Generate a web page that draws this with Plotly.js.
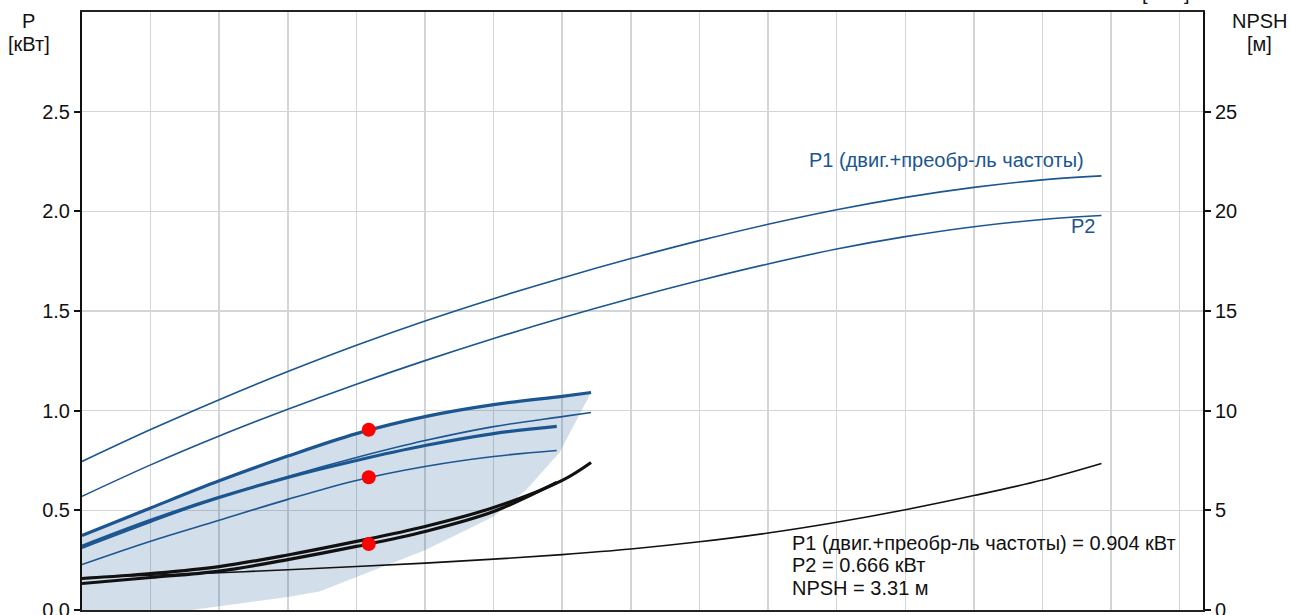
<!DOCTYPE html>
<html>
<head>
<meta charset="utf-8">
<script src="https://cdn.plot.ly/plotly-3.0.1.min.js"></script>
<style>html,body{margin:0;padding:0;background:#fff;}#chart{width:1290px;height:615px;}</style>
</head>
<body>
<div id="chart"></div>
<script>
// Flow positions (grid units of the hidden Q axis) and values
const qFull   = [0, 0.5, 1, 1.5, 2, 2.5, 3, 3.5, 4, 4.5, 5, 5.5, 6, 6.5, 7, 7.43];
const p1Full  = [0.745, 0.905, 1.055, 1.196, 1.328, 1.450, 1.562, 1.666, 1.763, 1.853, 1.935, 2.008, 2.070, 2.120, 2.158, 2.178];
const p2Full  = [0.570, 0.728, 0.873, 1.007, 1.133, 1.251, 1.362, 1.466, 1.563, 1.653, 1.736, 1.811, 1.873, 1.923, 1.959, 1.979];
const npshFull= [1.62, 1.74, 1.87, 2.02, 2.18, 2.35, 2.55, 2.78, 3.06, 3.42, 3.86, 4.40, 5.03, 5.74, 6.52, 7.35];

const qA    = [0, 0.5, 1, 1.5, 2, 2.5, 3, 3.5, 3.71];
const p1A   = [0.374, 0.512, 0.648, 0.772, 0.885, 0.970, 1.030, 1.072, 1.091];
const p2A   = [0.31, 0.44, 0.565, 0.67, 0.765, 0.85, 0.92, 0.97, 0.991];
const npshA = [1.58, 1.83, 2.18, 2.76, 3.44, 4.19, 5.14, 6.50, 7.40];

const qB    = [0, 0.5, 1, 1.5, 2, 2.5, 3, 3.46];
const p1B   = [0.32, 0.45, 0.565, 0.665, 0.75, 0.825, 0.885, 0.921];
const p2B   = [0.228, 0.345, 0.45, 0.555, 0.65, 0.72, 0.77, 0.80];
const npshB = [1.33, 1.63, 1.95, 2.53, 3.19, 3.94, 4.94, 6.40];

// lower edge of the shaded operating range
const rangeLowQ = [3.71, 3.48, 3.24, 3.0, 2.5, 2.0, 1.73, 1.5, 1.0, 0.8, 0];
const rangeLowP = [1.091, 0.79, 0.605, 0.469, 0.30, 0.165, 0.093, 0.065, 0.018, 0, 0];

// duty point
const dutyQ = [2.09];
const dutyP1 = [0.904];
const dutyP2 = [0.666];
const dutyNPSH = [3.31];

const pTicks = [0, 0.5, 1.0, 1.5, 2.0, 2.5];
const pTickText = ['0.0', '0.5', '1.0', '1.5', '2.0', '2.5'];
const nTicks = [0, 5, 10, 15, 20, 25];
const nTickText = ['0', '5', '10', '15', '20', '25'];

const BLUE = '#1b5690';
const BLACK = '#111111';

const traces = [
  {x: qA.concat(rangeLowQ), y: p1A.concat(rangeLowP), mode: 'lines', fill: 'toself',
   fillcolor: 'rgba(30,90,150,0.2)', line: {width: 0}, hoverinfo: 'skip'},
  {x: qFull, y: p1Full, mode: 'lines', line: {color: BLUE, width: 1.6, shape: 'spline'}},
  {x: qFull, y: p2Full, mode: 'lines', line: {color: BLUE, width: 1.6, shape: 'spline'}},
  {x: qA, y: p1A, mode: 'lines', line: {color: BLUE, width: 3.2, shape: 'spline'}},
  {x: qA, y: p2A, mode: 'lines', line: {color: BLUE, width: 1.6, shape: 'spline'}},
  {x: qB, y: p1B, mode: 'lines', line: {color: BLUE, width: 3.2, shape: 'spline'}},
  {x: qB, y: p2B, mode: 'lines', line: {color: BLUE, width: 1.6, shape: 'spline'}},
  {x: qFull, y: npshFull, yaxis: 'y2', mode: 'lines', line: {color: BLACK, width: 1.6, shape: 'spline'}},
  {x: qA, y: npshA, yaxis: 'y2', mode: 'lines', line: {color: BLACK, width: 3.2, shape: 'spline'}},
  {x: qB, y: npshB, yaxis: 'y2', mode: 'lines', line: {color: BLACK, width: 3.2, shape: 'spline'}},
  {x: dutyQ, y: dutyP1, mode: 'markers', marker: {color: '#ff0000', size: 14}},
  {x: dutyQ, y: dutyP2, mode: 'markers', marker: {color: '#ff0000', size: 14}},
  {x: dutyQ, y: dutyNPSH, yaxis: 'y2', mode: 'markers', marker: {color: '#ff0000', size: 14}}
];

const FONT = 'Liberation Sans, Arial, sans-serif';
const FS = 20;
const py = p => (610 - p) / 598;      // pixel row -> paper y
const px = p => (p - 82) / 1121;      // pixel column -> paper x

const layout = {
  width: 1290, height: 615,
  margin: {l: 82, r: 87, t: 12, b: 5, pad: 0},
  paper_bgcolor: '#ffffff', plot_bgcolor: '#ffffff',
  showlegend: false,
  font: {family: FONT, size: FS, color: '#111'},
  xaxis: {range: [0, 8.17], tick0: 0, dtick: 0.5, showticklabels: false, ticks: '',
          showgrid: true, gridcolor: '#d3d5d8', gridwidth: 1.5, zeroline: false,
          showline: true, linecolor: '#222', linewidth: 2, mirror: true, fixedrange: true},
  yaxis: {range: [0, 3], tickmode: 'array', tickvals: pTicks, ticktext: pTickText,
          ticks: 'outside', ticklen: 6, tickwidth: 2, tickcolor: '#111', ticklabeloverflow: 'allow',
          showgrid: true, gridcolor: '#d3d5d8', gridwidth: 1.5, zeroline: false,
          showline: true, linecolor: '#111', linewidth: 2, mirror: true},
  yaxis2: {range: [0, 30], overlaying: 'y', side: 'right', tickmode: 'array', tickvals: nTicks, ticktext: nTickText,
           ticks: 'outside', ticklen: 6, tickwidth: 2, tickcolor: '#111', ticklabeloverflow: 'allow',
           showgrid: false, zeroline: false, showline: true, linecolor: '#111', linewidth: 2},
  annotations: [
    {xref: 'paper', yref: 'paper', x: px(28.5), y: py(21), xanchor: 'center', yanchor: 'middle',
     text: 'P', showarrow: false, font: {size: FS, color: '#111'}},
    {xref: 'paper', yref: 'paper', x: px(28.5), y: py(44), xanchor: 'center', yanchor: 'middle',
     text: '[кВт]', showarrow: false, font: {size: FS, color: '#111'}},
    {xref: 'paper', yref: 'paper', x: px(1259.5), y: py(21), xanchor: 'center', yanchor: 'middle',
     text: 'NPSH', showarrow: false, font: {size: FS, color: '#111'}},
    {xref: 'paper', yref: 'paper', x: px(1259.5), y: py(44), xanchor: 'center', yanchor: 'middle',
     text: '[м]', showarrow: false, font: {size: FS, color: '#111'}},
    {xref: 'paper', yref: 'paper', x: px(1165.5), y: py(-7), xanchor: 'center', yanchor: 'middle',
     text: '[м³/ч]', showarrow: false, font: {size: FS, color: '#111'}},
    {xref: 'paper', yref: 'paper', x: px(807), y: py(160), xanchor: 'left', yanchor: 'middle',
     text: 'P1 (двиг.+преобр-ль частоты)', showarrow: false, font: {size: FS, color: BLUE}},
    {xref: 'paper', yref: 'paper', x: px(1069), y: py(226), xanchor: 'left', yanchor: 'middle',
     text: 'P2', showarrow: false, font: {size: FS, color: BLUE}},
    {xref: 'paper', yref: 'paper', x: px(790), y: py(543), xanchor: 'left', yanchor: 'middle',
     text: 'P1 (двиг.+преобр-ль частоты) = 0.904 кВт', showarrow: false, font: {size: FS, color: '#111'}},
    {xref: 'paper', yref: 'paper', x: px(790), y: py(565), xanchor: 'left', yanchor: 'middle',
     text: 'P2 = 0.666 кВт', showarrow: false, font: {size: FS, color: '#111'}},
    {xref: 'paper', yref: 'paper', x: px(790), y: py(588), xanchor: 'left', yanchor: 'middle',
     text: 'NPSH = 3.31 м', showarrow: false, font: {size: FS, color: '#111'}}
  ]
};

Plotly.newPlot('chart', traces, layout, {displayModeBar: false, staticPlot: true});
</script>
</body>
</html>
